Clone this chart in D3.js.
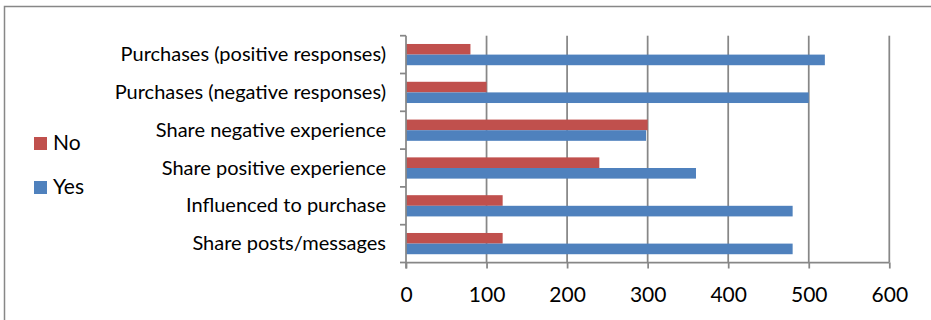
<!DOCTYPE html>
<html><head><meta charset="utf-8">
<script src="https://cdn.jsdelivr.net/npm/d3@7"></script>
<style>html,body{margin:0;padding:0;background:#fff;}svg{display:block;}</style>
</head><body>
<svg id="chart" width="931" height="320"></svg>
<script>
const categories = ["Purchases (positive responses)","Purchases (negative responses)","Share negative experience","Share positive experience","Influenced to purchase","Share posts/messages"];
const seriesNames = ["No","Yes"];
const noValues = [80, 100, 300, 240, 120, 120];
const yesValues = [520, 500, 298, 360, 480, 480];
const xTicks = [0,100,200,300,400,500,600];
const colors = {No:"#C0504D", Yes:"#4F81BD"};

const svg = d3.select("#chart");
const FONT = "Lato, 'Open Sans', sans-serif";
const grid = "#878787";

// outer frame
svg.append("path").attr("d","M4.5,330 V6.5 H940").attr("fill","none").attr("stroke",grid).attr("stroke-width",1.5);

const pLeft = 406, pRight = 889.3, pTop = 35.7, pBottom = 262.5;
const x = d3.scaleLinear().domain([0,600]).range([pLeft,pRight]);
const y = d3.scaleBand().domain(categories).range([pTop,pBottom]).paddingInner(0).paddingOuter(0);
const ySub = d3.scaleBand().domain(seriesNames).range([0,y.bandwidth()]).paddingInner(0).paddingOuter(0.78);

// gridlines
svg.append("g").selectAll("line").data(xTicks.slice(1)).join("line")
  .attr("x1",d=>x(d)).attr("x2",d=>x(d)).attr("y1",pTop).attr("y2",pBottom)
  .attr("stroke",grid).attr("stroke-width",1.75);

// bars
const data = categories.map((c,i)=>({cat:c, No:noValues[i], Yes:yesValues[i]}));
const gBars = svg.append("g");
seriesNames.forEach(s=>{
  gBars.selectAll("rect."+s).data(data).join("rect").attr("class",s)
    .attr("x",x(0)).attr("y",d=>y(d.cat)+ySub(s))
    .attr("width",d=>x(d[s])-x(0)).attr("height",ySub.bandwidth())
    .attr("fill",colors[s]);
});

// x axis
const xAxis = d3.axisBottom(x).tickValues(xTicks).tickSize(6).tickPadding(18.3).tickFormat(d3.format("d"));
const gx = svg.append("g").attr("transform",`translate(0,${pBottom})`).call(xAxis);
gx.select(".domain").attr("stroke",grid).attr("stroke-width",1.75).attr("d",`M${pLeft},0H${pRight}`);
gx.selectAll(".tick line").attr("stroke",grid).attr("stroke-width",1.75);
gx.selectAll(".tick text").attr("fill","#000").style("font-family",FONT).style("font-size","21px").attr("dy","0.71em");

// y axis
const catBounds = categories.map(c=>y(c)).concat([pBottom]);
svg.append("line").attr("x1",pLeft).attr("x2",pLeft).attr("y1",pTop).attr("y2",pBottom+6)
  .attr("stroke",grid).attr("stroke-width",1.75);
svg.append("g").selectAll("line").data(catBounds).join("line")
  .attr("x1",pLeft-6).attr("x2",pLeft).attr("y1",d=>d).attr("y2",d=>d)
  .attr("stroke",grid).attr("stroke-width",1.75);
svg.append("g").selectAll("text").data(categories).join("text")
  .attr("x",386).attr("y",d=>y(d)+y.bandwidth()/2+6.5)
  .attr("text-anchor","end").attr("fill","#000")
  .style("font-family",FONT).style("font-size","20px").text(d=>d);

// legend
const legendY = {No:137, Yes:181};
const lg = svg.append("g");
["No","Yes"].forEach(s=>{
  lg.append("rect").attr("x",34).attr("y",legendY[s]).attr("width",13).attr("height",13).attr("fill",colors[s]);
  lg.append("text").attr("x",53).attr("y",legendY[s]+13.3).attr("fill","#000")
    .style("font-family",FONT).style("font-size","21px").text(s);
});
</script>
</body></html>
